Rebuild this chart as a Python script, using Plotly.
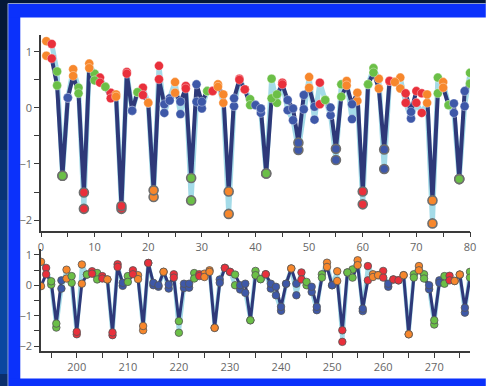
import plotly.graph_objects as go

# ---------------- data ----------------
top_x = list(range(1, 81))
top_cat = list("ORGGBOGROG" "RGRORRBGRO" "ORBBOBRGBB" "GROOOBRRGB" "BGGGRBBBBO"
               "BRGBBGOBOR" "GGOBROORBR" "ROOGOGBGBG")
top_dark = [0.93, 0.88, 0.40, -1.21, 0.18, 0.57, 0.26, -1.51, 0.71, 0.49,
            0.45, 0.375, 0.17, 0.20, -1.75, 0.61, -0.05, 0.28, 0.23, 0.09,
            -1.47, 0.51, 0.065, 0.13, 0.27, 0.11, 0.345, -1.25, 0.42, 0.11,
            0.30, 0.30, 0.375, 0.24, -1.49, 0.17, 0.50, 0.33, 0.05, 0.05,
            -0.01, -1.17, 0.17, 0.24, 0.42, 0.14, -0.01, -0.62, 0.23, 0.36,
            0.02, 0.065, 0.14, 0.005, -0.73, 0.20, 0.40, 0.065, 0.27, -1.49,
            0.42, 0.63, 0.345, -0.74, 0.48, 0.46, 0.345, 0.26, -0.07, 0.30,
            0.26, 0.24, -1.65, 0.26, 0.36, 0.05, 0.08, -1.27, 0.30, 0.435]
top_light = [1.19, 1.14, 0.65, -1.21, 0.18, 0.69, 0.36, -1.80, 0.79, 0.61,
             0.54, 0.375, 0.27, 0.24, -1.80, 0.64, -0.05, 0.28, 0.36, 0.09,
             -1.59, 0.75, -0.09, 0.17, 0.46, -0.11, 0.39, -1.65, 0.11, -0.01,
             0.30, 0.30, 0.42, 0.09, -1.89, 0.03, 0.52, 0.33, 0.155, 0.05,
             -0.09, -1.17, 0.52, 0.09, 0.45, -0.04, -0.22, -0.75, -0.025, 0.55,
             -0.21, 0.45, 0.14, -0.13, -0.93, 0.42, 0.48, -0.20, 0.125, -1.72,
             0.42, 0.71, 0.52, -1.09, 0.48, 0.46, 0.54, 0.09, -0.19, 0.09,
             -0.09, 0.09, -2.06, 0.54, 0.46, 0.05, -0.09, -1.27, 0.03, 0.625]

bot_x = list(range(193, 278))
bot_cat = list("ORGGBOGROG" "RGRORRBGRO" "ORBBOBRGBB" "GROOOBRRGB" "BGGGRBBBBO"
               "BRGBBGOBOR" "GGOBROORBR" "ROOGOGBGBG" "ROOBG")
bot_dark = [-0.03, 0.36, 0.13, -1.26, 0.16, 0.22, 0.30, -1.53, 0.05, 0.35,
            0.38, 0.19, 0.22, 0.19, -1.55, 0.60, 0.08, 0.11, 0.36, 0.20,
            -1.34, 0.73, 0.08, 0.0, 0.44, 0.02, 0.25, -1.18, 0.05, 0.05,
            0.22, 0.30, 0.27, 0.44, -1.40, 0.08, 0.57, 0.44, 0.35, 0.0,
            0.05, -1.15, 0.33, 0.20, 0.36, 0.05, -0.05, -0.71, 0.05, 0.55,
            0.05, 0.19, 0.11, -0.05, -0.71, 0.25, 0.60, 0.0, 0.14, -1.48,
            0.42, 0.25, 0.66, -0.77, 0.16, 0.27, 0.33, 0.25, 0.05, 0.19,
            0.16, 0.33, -1.61, 0.25, 0.49, 0.22, 0.0, -1.15, 0.08, 0.05,
            0.16, 0.14, 0.35, -0.74, 0.25]
bot_light = [0.77, 0.57, 0.02, -1.39, -0.11, 0.51, 0.08, -1.61, 0.68, 0.35,
             0.46, 0.40, 0.30, 0.19, -1.64, 0.69, -0.02, 0.30, 0.49, 0.33,
             -1.48, 0.73, 0.0, -0.05, 0.44, -0.11, 0.36, -1.56, -0.09, -0.08,
             0.40, 0.36, 0.38, 0.49, -1.40, 0.19, 0.57, 0.44, 0.0, -0.14,
             -0.25, -1.15, 0.47, 0.20, 0.36, -0.11, -0.33, -0.84, 0.05, 0.55,
             -0.33, 0.42, 0.0, -0.22, -0.82, 0.36, 0.74, 0.0, 0.46, -1.86,
             0.42, 0.52, 0.82, -0.85, 0.63, 0.36, 0.33, 0.47, -0.05, 0.19,
             0.16, 0.33, -1.61, 0.36, 0.63, 0.36, -0.13, -1.29, 0.16, 0.30,
             0.31, 0.14, 0.35, -0.90, 0.44]

# ---------------- styling ----------------
CAT_COLORS = {"O": "#f7872c", "R": "#e9303b", "G": "#6bbf47", "B": "#3e58a8"}
DARK = "#2e3979"
LIGHT = "#a4dbe8"
FRAME_BLUE = "#0b31fb"

W, H = 488, 386
ML, MR, MT, MB = 41, 12, 35, 35
PW, PH = W - ML - MR, H - MT - MB


def pxx(x):
    return (x - ML) / PW


def pxy(y):
    return (H - MB - y) / PH


def rect(x0, y0, x1, y1, color, line=None):
    return dict(type="rect", xref="paper", yref="paper", x0=pxx(x0), x1=pxx(x1),
                y0=pxy(y1), y1=pxy(y0), fillcolor=color,
                line=line or dict(width=0), layer="below")


fig = go.Figure()


def add_panel(xs, cats, dark, light, xa, ya, msize, lw_dark, lw_light, top):
    cols = [CAT_COLORS[c] for c in cats]
    fig.add_trace(go.Scatter(x=xs, y=light, mode="lines", xaxis=xa, yaxis=ya,
                             line=dict(color=LIGHT, width=lw_light), hoverinfo="skip"))
    fig.add_trace(go.Scatter(x=xs, y=dark, mode="lines", xaxis=xa, yaxis=ya,
                             line=dict(color=DARK, width=lw_dark), hoverinfo="skip"))
    for vals in (light, dark):
        if top:
            lc = ["#6e6e6e" if v < -0.5 else "rgba(255,255,255,0.6)" for v in vals]
            lwid = [1.6 if v < -0.5 else 0.6 for v in vals]
        else:
            lc = ["#555555"] * len(vals)
            lwid = [0.8] * len(vals)
        fig.add_trace(go.Scatter(x=xs, y=vals, mode="markers", xaxis=xa, yaxis=ya,
                                 marker=dict(color=cols, size=msize,
                                             line=dict(color=lc, width=lwid))))


add_panel(top_x, top_cat, top_dark, top_light, "x", "y", 9, 4, 5, True)
add_panel(bot_x, bot_cat, bot_dark, bot_light, "x2", "y2", 7.5, 3, 4, False)

axis_common = dict(showgrid=False, zeroline=False, showline=True, linecolor="#3a3a3a",
                   linewidth=1.5, ticks="outside", ticklen=5, tickwidth=1.2,
                   tickcolor="#3a3a3a", tickfont=dict(family="Open Sans", size=11, color="#666"))

shapes = []
# dark page strips (left gradient and top)
bands = [(0, 50, "#041838"), (50, 100, "#05214d"), (100, 150, "#072a62"),
         (150, 200, "#083476"), (200, 250, "#0a3d8a"), (250, 300, "#0b4498"),
         (300, 374, "#0b47a0"), (374, 390, "#0a2f6c")]
for y0, y1, c in bands:
    shapes.append(rect(-2, y0, 8, y1, c))
shapes.append(rect(-2, -2, W + 4, 3.5, "#041838"))
# blue frame: left, top, bottom bands
shapes.append(rect(7.5, 3.5, 20, H + 4, FRAME_BLUE))
shapes.append(rect(7.5, 3.5, W + 4, 17.5, FRAME_BLUE))
shapes.append(rect(7.5, 378.5, W + 4, H + 4, FRAME_BLUE))
# light border on the frame edges
shapes.append(dict(type="line", xref="paper", yref="paper", x0=pxx(7.5), x1=pxx(7.5),
                   y0=pxy(H + 4), y1=pxy(3.5), line=dict(color="#8fa0c8", width=1), layer="below"))
shapes.append(dict(type="line", xref="paper", yref="paper", x0=pxx(7.5), x1=pxx(W + 4),
                   y0=pxy(3.5), y1=pxy(3.5), line=dict(color="#8fa0c8", width=1), layer="below"))

fig.update_layout(
    width=W, height=H, autosize=False,
    margin=dict(l=ML, r=MR, t=MT, b=MB),
    paper_bgcolor="white", plot_bgcolor="rgba(0,0,0,0)",
    showlegend=False, hovermode=False,
    shapes=shapes,
    xaxis=dict(axis_common, domain=[0, 1], range=[0, 80], dtick=10, tick0=0,
               minor=dict(dtick=5, ticks="outside", ticklen=5, tickcolor="#3a3a3a"), anchor="y"),
    yaxis=dict(axis_common, domain=[pxy(230.7), 1], range=[-2.19, 1.30], dtick=1, tick0=0,
               minor=dict(dtick=0.5, ticks="outside", ticklen=5, tickcolor="#3a3a3a"), anchor="x"),
    xaxis2=dict(axis_common, domain=[0, 1], range=[193, 277], dtick=10, tick0=200,
                minor=dict(dtick=5, ticks="outside", ticklen=5, tickcolor="#3a3a3a"), anchor="y2"),
    yaxis2=dict(axis_common, domain=[0, pxy(249)], range=[-2.16, 1.19], dtick=1, tick0=0,
                minor=dict(dtick=0.5, ticks="outside", ticklen=5, tickcolor="#3a3a3a"), anchor="x2"),
)

fig.write_html(
    "out.html",
    config={"displayModeBar": False},
    post_script="document.body.style.margin='0';document.body.style.overflow='hidden';",
)
